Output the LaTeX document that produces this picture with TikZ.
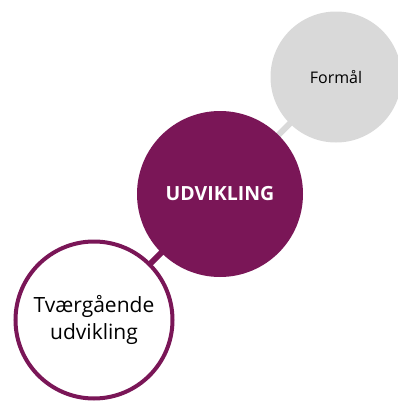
\documentclass[tikz,border=0pt]{standalone}
\usepackage{fontspec}
\setmainfont{Open Sans}
\usetikzlibrary{backgrounds}
\definecolor{plum}{HTML}{7A1657}
\definecolor{lgray}{HTML}{D9D9D9}
\begin{document}
\begin{tikzpicture}[x=1pt,y=-1pt,
  bubble/.style={circle,inner sep=0pt,align=center},
  link/.style={line width=6pt}]
\useasboundingbox (0,0) rectangle (398,402);
\node[bubble,minimum size=131pt,fill=lgray,font=\fontsize{16}{18}\selectfont] (f) at (336,77) {Formål};
\node[bubble,minimum size=166pt,fill=plum,text=white,font=\bfseries\fontsize{19.5}{22}\selectfont] (u) at (220,194) {UDVIKLING};
\node[bubble,minimum size=157pt,draw=plum,line width=4pt,fill=white,font=\fontsize{21}{27}\selectfont] (t) at (94,320) {Tværgående\\udvikling};
\begin{scope}[on background layer]
\draw[link,lgray] (f.center) -- (u.center);
\draw[link,plum] (u.center) -- (t.center);
\end{scope}
\end{tikzpicture}
\end{document}
